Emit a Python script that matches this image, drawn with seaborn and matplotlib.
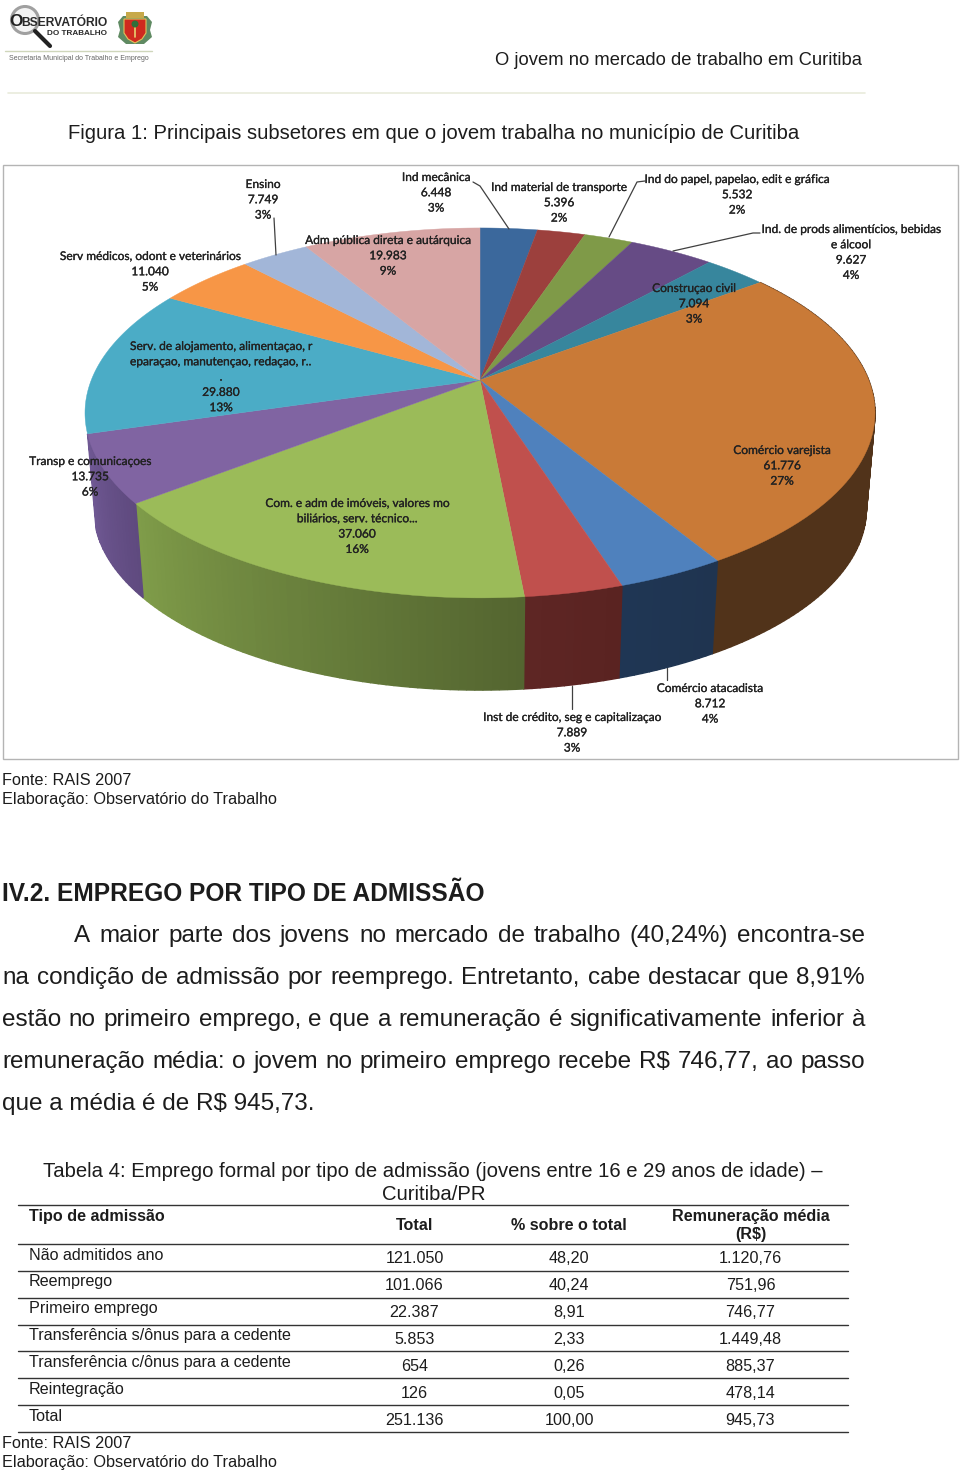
"""Report page with a 3D pie of youth employment by subsector and an admissions table."""

import numpy as np
import seaborn as sns
from matplotlib import patheffects
from matplotlib import pyplot as plt
from matplotlib.patches import Circle, Polygon, Rectangle

# pie data, clockwise from 12 o'clock
sector_names = [
    "Ind mecânica",
    "Ind material de transporte",
    "Ind do papel, papelao, edit e gráfica",
    "Ind. de prods alimentícios, bebidas\ne álcool",
    "Construçao civil",
    "Comércio varejista",
    "Comércio atacadista",
    "Inst de crédito, seg e capitalizaçao",
    "Com. e adm de imóveis, valores mo\nbiliários, serv. técnico...",
    "Transp e comunicaçoes",
    "Serv. de alojamento, alimentaçao, r\neparaçao, manutençao, redaçao, r..\n.",
    "Serv médicos, odont e veterinários",
    "Ensino",
    "Adm pública direta e autárquica",
]
sector_values = [6448, 5396, 5532, 9627, 7094, 61776, 8712, 7889, 37060, 13735, 29880, 11040, 7749, 19983]
sector_value_labels = ["6.448", "5.396", "5.532", "9.627", "7.094", "61.776", "8.712", "7.889",
                       "37.060", "13.735", "29.880", "11.040", "7.749", "19.983"]
sector_percents = ["3%", "2%", "2%", "4%", "3%", "27%", "4%", "3%", "16%", "6%", "13%", "5%", "3%", "9%"]

# table data
table_rows = ["Não admitidos ano", "Reemprego", "Primeiro emprego", "Transferência s/ônus para a cedente",
              "Transferência c/ônus para a cedente", "Reintegração", "Total"]
table_totals = ["121.050", "101.066", "22.387", "5.853", "654", "126", "251.136"]
table_shares = ["48,20", "40,24", "8,91", "2,33", "0,26", "0,05", "100,00"]
table_wages = ["1.120,76", "751,96", "746,77", "1.449,48", "885,37", "478,14", "945,73"]

# colours
top_colors = ["#3b689c", "#9c403d", "#7f9a48", "#664b85", "#37869d", "#c97a37", "#4f81bd",
              "#c0504d", "#9bbb59", "#8064a2", "#4bacc6", "#f79646", "#a2b6d8", "#d7a5a4"]
# only these sectors show a side wall: (index, colour at the right end, colour at the left end)
front_walls = [
    (5, "#51331a", "#51331a"),
    (6, "#1f3450", "#1f3654"),
    (7, "#5a2321", "#5e2624"),
    (8, "#546530", "#7f9c49"),
    (9, "#5f4a7f", "#6f5893"),
]

# pie label centres in page pixels (x, first line y)
label_spots = [(436, 177), (559, 187), (737, 179), (851, 229), (694, 288), (782, 450), (710, 688),
               (572, 717), (357, 503), (90, 461), (221, 346), (150, 256), (263, 184), (388, 240)]
leader_lines = [
    [(473, 182), (480, 186), (509, 229)],
    [(645, 181), (637, 182), (609, 237)],
    [(760, 233), (753, 233), (673, 251)],
    [(274, 218), (276, 255)],
    [(667, 668), (667, 680)],
    [(572, 686), (572, 709)],
]

# projection of the tilted pie
APEX_X, APEX_Y = 480, 380
REACH_X, REACH_Y, TILT = 388.7, 179.1, 0.178
WALL_DROP, WALL_SCALE = 97, 0.978

BODY_FONT = "Liberation Sans"
LABEL_FONT = "Lato"
TEXT_COLOR = "#1c1c1c"


def project(theta, floor=False):
    """Map a clockwise angle on the pie to page pixels."""
    scale = WALL_SCALE if floor else 1.0
    drop = WALL_DROP if floor else 0
    bend = 1 + TILT * np.cos(theta)
    x = APEX_X + scale * REACH_X * np.sin(theta) / bend
    y = APEX_Y + drop - scale * REACH_Y * np.cos(theta) / bend
    return x, y


def draw_pie(ax):
    edges = np.radians(np.concatenate([[0], np.cumsum(sector_values)]) / sum(sector_values) * 360)

    for i, right, left in front_walls:
        count = max(3, int(np.degrees(edges[i + 1] - edges[i])))
        ramp = sns.blend_palette([right, left], count)
        steps = np.linspace(edges[i], edges[i + 1], count + 1)
        for j in range(count):
            corners = [project(steps[j]), project(steps[j + 1]),
                       project(steps[j + 1], True), project(steps[j], True)]
            ax.add_patch(Polygon(corners, facecolor=ramp[j], edgecolor=ramp[j], linewidth=1.0, zorder=2))

    for i, color in enumerate(top_colors):
        rim = np.linspace(edges[i], edges[i + 1], 60)
        x, y = project(rim)
        outline = [(APEX_X, APEX_Y)] + list(zip(x, y))
        ax.add_patch(Polygon(outline, facecolor=color, edgecolor=color, linewidth=0.3, zorder=3))


def draw_pie_labels(ax):
    thicker = [patheffects.withStroke(linewidth=0.2, foreground="#222222")]
    for line in leader_lines:
        xs, ys = zip(*line)
        ax.plot(xs, ys, color="#404040", linewidth=0.9, zorder=4)
    for i, (cx, top) in enumerate(label_spots):
        rows = sector_names[i].split("\n") + [sector_value_labels[i], sector_percents[i]]
        for j, row in enumerate(rows):
            if i == 10 and j == 1:
                label = ax.text(130, top + 4 + 15.3 * j, row, ha="left", va="baseline", fontsize=8.6,
                                family=LABEL_FONT, color="#222222", zorder=5)
            else:
                label = ax.text(cx, top + 4 + 15.3 * j, row, ha="center", va="baseline", fontsize=8.6,
                                family=LABEL_FONT, color="#222222", zorder=5)
            label.set_path_effects(thicker)


def page_text(ax, x, y, text, size, ha="left", weight="normal"):
    return ax.text(x, y, text, fontsize=size, ha=ha, va="baseline", family=BODY_FONT,
                   weight=weight, color=TEXT_COLOR, zorder=5)


def justified(ax, renderer, x0, x1, y, line, size):
    """Spread the words of one body line across x0..x1."""
    words = [page_text(ax, x0, y, w, size) for w in line.split()]
    widths = [w.get_window_extent(renderer).width for w in words]
    gap = (x1 - x0 - sum(widths)) / (len(words) - 1)
    x = x0
    for word, width in zip(words, widths):
        word.set_x(x)
        x += width + gap


def draw_logo(ax):
    ax.add_patch(Circle((25, 20), 13.5, facecolor="#f4f4f4", edgecolor="#a0a0a0", linewidth=2.2, zorder=2))
    ax.plot([35, 50], [31, 46], color="#222222", linewidth=3.0, solid_capstyle="round", zorder=3)
    ax.text(9, 26, "O", fontsize=12.5, weight="bold", family=BODY_FONT, color="#222222", zorder=4)
    ax.text(21.5, 25.5, "BSERVATÓRIO", fontsize=8.7, weight="bold", family=BODY_FONT, color="#2a2a2a", zorder=4)
    ax.text(47, 35, "DO TRABALHO", fontsize=5.9, weight="bold", family=BODY_FONT, color="#2a2a2a", zorder=4)
    ax.plot([5, 152], [51, 51], color="#cfd6bb", linewidth=1.0)
    ax.text(9, 60, "Secretaria Municipal do Trabalho e Emprego", fontsize=5.0, family=BODY_FONT, color="#666666")
    ax.add_patch(Polygon([(118, 22), (120, 30), (118, 37), (126, 44), (144, 44), (152, 37), (150, 30), (152, 22), (147, 16), (123, 16)],
                         facecolor="#5f8a62", edgecolor="none", zorder=2))
    ax.add_patch(Polygon([(124, 19), (146, 19), (146, 33), (142, 39), (135, 43), (128, 39), (124, 33)],
                         facecolor="#cf2a1f", edgecolor="#e2c25a", linewidth=0.8, zorder=3))
    ax.add_patch(Rectangle((126, 12), 18, 6, facecolor="#c7a94a", edgecolor="none", zorder=3))
    ax.plot([135, 135], [24, 37], color="#e8d070", linewidth=1.2, zorder=4)
    ax.add_patch(Circle((135, 24), 3.5, facecolor="#2f6e3a", edgecolor="none", zorder=4))
    ax.plot([8, 865], [93, 93], color="#e9ebdc", linewidth=1.2)


def draw_table(ax):
    left, right = 18, 848
    for y in [1205, 1244, 1271, 1298, 1324.5, 1351, 1378, 1405, 1432]:
        ax.plot([left, right], [y, y], color="#333333", linewidth=1.0, zorder=4)
    page_text(ax, 29, 1220.5, "Tipo de admissão", 11.6, weight="bold")
    page_text(ax, 414.5, 1230, "Total", 11.6, ha="center", weight="bold")
    page_text(ax, 569, 1230, "% sobre o total", 11.6, ha="center", weight="bold")
    page_text(ax, 750.5, 1220.5, "Remuneração média", 11.6, ha="center", weight="bold")
    page_text(ax, 750.5, 1239, "(R$)", 11.6, ha="center", weight="bold")
    for i, name in enumerate(table_rows):
        page_text(ax, 29, 1259.5 + 26.95 * i, name, 11.65)
        page_text(ax, 414.5, 1263 + 26.95 * i, table_totals[i], 11.65, ha="center")
        page_text(ax, 569, 1263 + 26.95 * i, table_shares[i], 11.65, ha="center")
        page_text(ax, 750.5, 1263 + 26.95 * i, table_wages[i], 11.65, ha="center")


def main():
    sns.set_theme(style="white")
    plt.rcParams["font.family"] = [BODY_FONT, "DejaVu Sans"]

    fig = plt.figure(figsize=(9.6, 14.71), dpi=100, facecolor="white")
    ax = fig.add_axes([0, 0, 1, 1])
    ax.set_xlim(0, 960)
    ax.set_ylim(1471, 0)
    ax.axis("off")
    renderer = fig.canvas.get_renderer()

    draw_logo(ax)
    page_text(ax, 495, 65, "O jovem no mercado de trabalho em Curitiba", 13.25)
    page_text(ax, 68, 139, "Figura 1: Principais subsetores em que o jovem trabalha no município de Curitiba", 14.55)

    ax.add_patch(Rectangle((2.5, 165), 955.5, 594, facecolor="white", edgecolor="#b4b4b4", linewidth=1.0, zorder=1))
    draw_pie(ax)
    draw_pie_labels(ax)

    page_text(ax, 2, 785, "Fonte: RAIS 2007", 11.7)
    page_text(ax, 2, 804, "Elaboração: Observatório do Trabalho", 11.7)

    page_text(ax, 2, 901, "IV.2. EMPREGO POR TIPO DE ADMISSÃO", 17.65, weight="bold")
    justified(ax, renderer, 74, 865, 942, "A maior parte dos jovens no mercado de trabalho (40,24%) encontra-se", 17.5)
    justified(ax, renderer, 2, 865, 984, "na condição de admissão por reemprego. Entretanto, cabe destacar que 8,91%", 17.5)
    justified(ax, renderer, 2, 865, 1026, "estão no primeiro emprego, e que a remuneração é significativamente inferior à", 17.5)
    justified(ax, renderer, 2, 865, 1068, "remuneração média: o jovem no primeiro emprego recebe R$ 746,77, ao passo", 17.5)
    page_text(ax, 2, 1110, "que a média é de R$ 945,73.", 17.5)

    page_text(ax, 43, 1177, "Tabela 4: Emprego formal por tipo de admissão (jovens entre 16 e 29 anos de idade) –", 14.6)
    page_text(ax, 433.5, 1200, "Curitiba/PR", 14.6, ha="center")
    draw_table(ax)
    page_text(ax, 2, 1448, "Fonte: RAIS 2007", 11.7)
    page_text(ax, 2, 1467, "Elaboração: Observatório do Trabalho", 11.7)

    fig.savefig("out.png", dpi=100, facecolor="white")
    plt.close(fig)


main()
